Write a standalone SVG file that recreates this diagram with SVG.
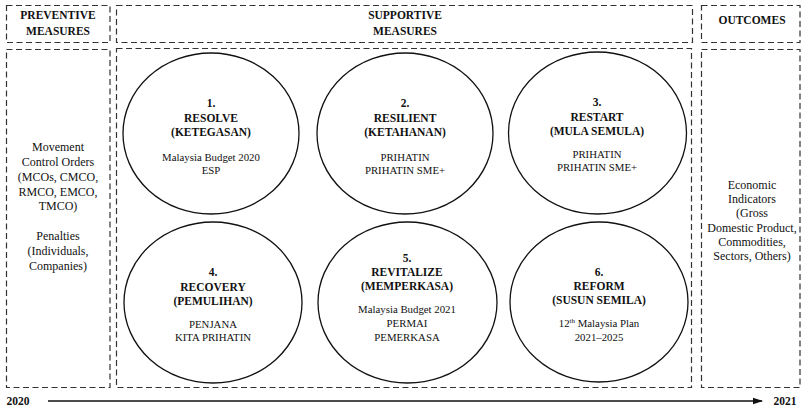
<svg xmlns="http://www.w3.org/2000/svg" width="805" height="407" viewBox="0 0 805 407">
<style>
.box{fill:none;stroke:#333;stroke-width:1.2;stroke-dasharray:6 3.5}
.ell{fill:none;stroke:#111;stroke-width:1.3}
text{font-family:"Liberation Serif","Times New Roman",serif;fill:#111;text-anchor:middle}
.b{font-weight:bold;font-size:11.5px}
.r{font-size:10.8px}
.s{font-size:12px}
.sup{font-size:7px}
</style>
<defs>
<marker id="ah" markerWidth="10" markerHeight="8" refX="9" refY="4" orient="auto" markerUnits="userSpaceOnUse">
<path d="M0,0.8 L10,4 L0,7.2 Z" fill="#111"/>
</marker>
</defs>
<rect width="805" height="407" fill="#fff"/>

<g id="hdr-preventive">
<rect class="box" x="6.5" y="5.5" width="103.5" height="37"/>
<text class="b" x="58" y="19">PREVENTIVE</text>
<text class="b" x="58" y="35">MEASURES</text>
</g>
<g id="hdr-supportive">
<rect class="box" x="116.5" y="5.5" width="576" height="37"/>
<text class="b" x="405" y="19">SUPPORTIVE</text>
<text class="b" x="405" y="35">MEASURES</text>
</g>
<g id="hdr-outcomes">
<rect class="box" x="701.5" y="5.5" width="98.5" height="37"/>
<text class="b" x="752" y="24">OUTCOMES</text>
</g>

<g id="preventive">
<rect class="box" x="6.5" y="49.5" width="103.5" height="338"/>
<text class="s" x="58" y="151">Movement</text>
<text class="s" x="58" y="166">Control Orders</text>
<text class="s" x="58" y="181">(MCOs, CMCO,</text>
<text class="s" x="58" y="196">RMCO, EMCO,</text>
<text class="s" x="58" y="210">TMCO)</text>
<text class="s" x="58" y="240">Penalties</text>
<text class="s" x="58" y="255">(Individuals,</text>
<text class="s" x="58" y="270">Companies)</text>
</g>

<g id="supportive">
<rect class="box" x="116.5" y="48.5" width="575" height="339"/>
</g>

<g id="outcomes">
<rect class="box" x="701.5" y="49.5" width="98.5" height="338"/>
<text class="s" x="752" y="189">Economic</text>
<text class="s" x="752" y="203">Indicators</text>
<text class="s" x="752" y="217">(Gross</text>
<text class="s" x="752" y="232">Domestic Product,</text>
<text class="s" x="752" y="246">Commodities,</text>
<text class="s" x="752" y="260">Sectors, Others)</text>
</g>

<g id="n1">
<ellipse class="ell" cx="211" cy="133.5" rx="88" ry="80.5"/>
<text class="b" x="211" y="107">1.</text>
<text class="b" x="211" y="121.5">RESOLVE</text>
<text class="b" x="211" y="136">(KETEGASAN)</text>
<text class="r" x="211" y="161">Malaysia Budget 2020</text>
<text class="r" x="211" y="174">ESP</text>
</g>
<g id="n2">
<ellipse class="ell" cx="405" cy="133.5" rx="88" ry="80.5"/>
<text class="b" x="405" y="107">2.</text>
<text class="b" x="405" y="121.5">RESILIENT</text>
<text class="b" x="405" y="136">(KETAHANAN)</text>
<text class="r" x="405" y="161">PRIHATIN</text>
<text class="r" x="405" y="174">PRIHATIN SME+</text>
</g>
<g id="n3">
<ellipse class="ell" cx="597.5" cy="133" rx="89" ry="81"/>
<text class="b" x="597" y="106">3.</text>
<text class="b" x="597" y="120.5">RESTART</text>
<text class="b" x="597" y="135">(MULA SEMULA)</text>
<text class="r" x="597" y="158">PRIHATIN</text>
<text class="r" x="597" y="171">PRIHATIN SME+</text>
</g>
<g id="n4">
<ellipse class="ell" cx="213" cy="302.5" rx="89" ry="80.5"/>
<text class="b" x="213" y="276">4.</text>
<text class="b" x="213" y="290.5">RECOVERY</text>
<text class="b" x="213" y="305">(PEMULIHAN)</text>
<text class="r" x="213" y="328">PENJANA</text>
<text class="r" x="213" y="341">KITA PRIHATIN</text>
</g>
<g id="n5">
<ellipse class="ell" cx="407.5" cy="302.5" rx="89.5" ry="80.5"/>
<text class="b" x="407" y="261.5">5.</text>
<text class="b" x="407" y="276">REVITALIZE</text>
<text class="b" x="407" y="290">(MEMPERKASA)</text>
<text class="r" x="407" y="313">Malaysia Budget 2021</text>
<text class="r" x="407" y="327">PERMAI</text>
<text class="r" x="407" y="341">PEMERKASA</text>
</g>
<g id="n6">
<ellipse class="ell" cx="599" cy="302" rx="89" ry="80"/>
<text class="b" x="599" y="276">6.</text>
<text class="b" x="599" y="289.5">REFORM</text>
<text class="b" x="599" y="304">(SUSUN SEMILA)</text>
<text class="r" x="599" y="327">12<tspan class="sup" dy="-4">th</tspan><tspan dy="4"> Malaysia Plan</tspan></text>
<text class="r" x="599" y="341">2021–2025</text>
</g>

<g id="connectors">
<line x1="48" y1="401" x2="762" y2="401" stroke="#111" stroke-width="1.3" marker-end="url(#ah)"/>
</g>
<g id="timeline-labels">
<text class="b" x="18" y="405">2020</text>
<text class="b" x="785" y="405">2021</text>
</g>
</svg>
